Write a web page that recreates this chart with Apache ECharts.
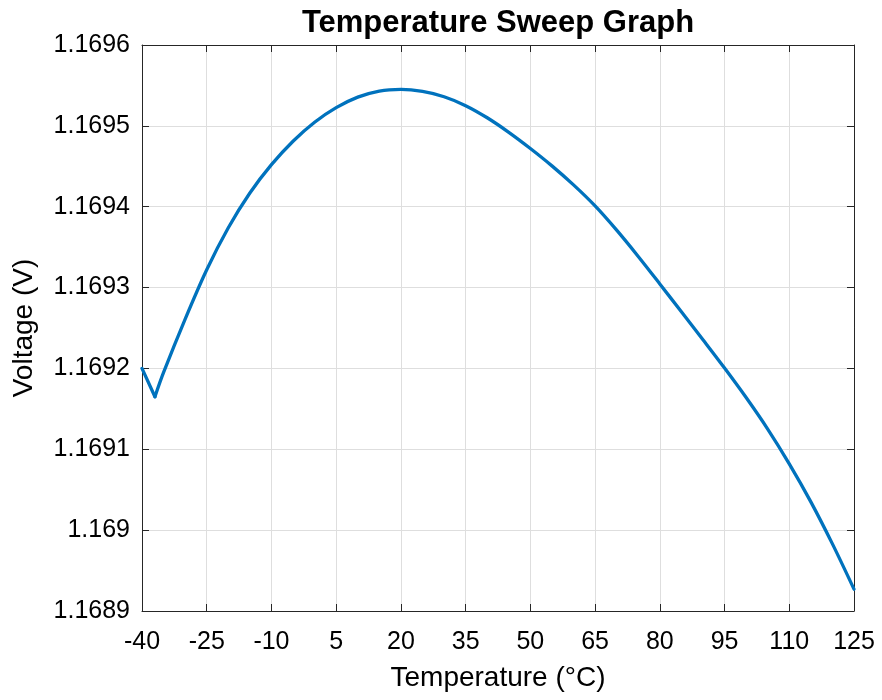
<!DOCTYPE html>
<html>
<head>
<meta charset="utf-8">
<title>Temperature Sweep Graph</title>
<script src="https://cdn.jsdelivr.net/npm/echarts@6/dist/echarts.min.js"></script>
<style>
  html, body { margin: 0; padding: 0; background: #ffffff; }
  #chart { width: 882px; height: 700px; }
</style>
</head>
<body>
<div id="chart"></div>
<script>
// Sweep temperatures (°C) and the measured output voltage (V) at each one
const temperatures = [
  -40, -37, -35, -30, -25, -20, -15, -10, -5, 0, 5, 10, 15, 20,
  25, 30, 35, 40, 45, 50, 55, 60, 65, 70, 75, 80, 85, 90, 95, 100, 105,
  110, 115, 120, 125
];
const voltages = [
  1.1692000, 1.1691650, 1.1691950, 1.1692610, 1.1693220,
  1.1693740, 1.1694170, 1.1694520, 1.1694810, 1.1695045, 1.1695225, 1.1695355,
  1.1695430, 1.1695450, 1.1695425, 1.1695360, 1.1695250, 1.1695100, 1.1694920,
  1.1694720, 1.1694505, 1.1694270, 1.1694010, 1.1693710, 1.1693385, 1.1693045,
  1.1692700, 1.1692355, 1.1692005, 1.1691640, 1.1691250, 1.1690820, 1.1690350,
  1.1689830, 1.1689270
];
// Index of the low point right after start-up (a sharp corner, not smoothed)
const dipIndex = 1;

// Axis ranges and tick spacing
const tempRange = [-40, 125];
const tempStep = 15;
const voltRange = [1.1689, 1.1696];
const voltStep = 0.0001;

const titleText = 'Temperature Sweep Graph';
const xName = 'Temperature (°C)';
const yName = 'Voltage (V)';

const FONT = "'Liberation Sans', Arial, Helvetica, sans-serif";
const AXIS_COLOR = '#262626';
const GRID_COLOR = '#dedede';
const LINE_COLOR = '#0072bd';

const points = temperatures.map((t, i) => [t, voltages[i]]);

const boxAxis = {
  axisLine: { show: true, onZero: false, lineStyle: { color: AXIS_COLOR, width: 1 } },
  axisTick: { show: true, inside: true, length: 7, lineStyle: { color: AXIS_COLOR, width: 1 } },
  axisLabel: { show: false },
  splitLine: { show: false }
};

const lineStyle = { color: LINE_COLOR, width: 3.3, cap: 'round', join: 'round' };

const chart = echarts.init(document.getElementById('chart'), null, { renderer: 'canvas' });

chart.setOption({
  animation: false,
  backgroundColor: '#ffffff',
  title: {
    text: titleText,
    left: 498,
    top: 8,
    padding: 0,
    textAlign: 'center',
    textStyle: { fontFamily: FONT, fontSize: 31, fontWeight: 'bold', color: '#000000' }
  },
  grid: { left: 142, right: 28, top: 45, bottom: 89, containLabel: false },
  xAxis: [
    {
      type: 'value',
      min: tempRange[0],
      max: tempRange[1],
      interval: tempStep,
      position: 'bottom',
      name: xName,
      nameLocation: 'middle',
      nameGap: 53,
      nameTextStyle: { fontFamily: FONT, fontSize: 28, color: '#000000' },
      axisLine: { show: true, onZero: false, lineStyle: { color: AXIS_COLOR, width: 1 } },
      axisTick: { show: true, inside: true, length: 7, lineStyle: { color: AXIS_COLOR, width: 1 } },
      axisLabel: {
        show: true, margin: 19, fontFamily: FONT, fontSize: 25, color: '#000000',
        showMinLabel: true, showMaxLabel: true,
        formatter: v => String(Math.round(v))
      },
      splitLine: { show: true, lineStyle: { color: GRID_COLOR, width: 1 } }
    },
    Object.assign({ type: 'value', min: tempRange[0], max: tempRange[1], interval: tempStep, position: 'top' }, boxAxis)
  ],
  yAxis: [
    {
      type: 'value',
      min: voltRange[0],
      max: voltRange[1],
      interval: voltStep,
      position: 'left',
      name: yName,
      nameLocation: 'middle',
      nameGap: 104,
      nameTextStyle: { fontFamily: FONT, fontSize: 28, color: '#000000' },
      axisLine: { show: true, onZero: false, lineStyle: { color: AXIS_COLOR, width: 1 } },
      axisTick: { show: true, inside: true, length: 7, lineStyle: { color: AXIS_COLOR, width: 1 } },
      axisLabel: {
        show: true, margin: 12, fontFamily: FONT, fontSize: 25, color: '#000000',
        showMinLabel: true, showMaxLabel: true,
        formatter: v => String(parseFloat(v.toFixed(4)))
      },
      splitLine: { show: true, lineStyle: { color: GRID_COLOR, width: 1 } }
    },
    Object.assign({ type: 'value', min: voltRange[0], max: voltRange[1], interval: voltStep, position: 'right' }, boxAxis)
  ],
  series: [
    {
      // straight start-up segment down to the dip
      type: 'line',
      data: points.slice(0, dipIndex + 1),
      showSymbol: false,
      smooth: false,
      lineStyle: lineStyle
    },
    {
      // smooth sweep from the dip to the top of the range
      type: 'line',
      data: points.slice(dipIndex),
      showSymbol: false,
      smooth: 0.33,
      lineStyle: lineStyle
    }
  ]
});
</script>
</body>
</html>
